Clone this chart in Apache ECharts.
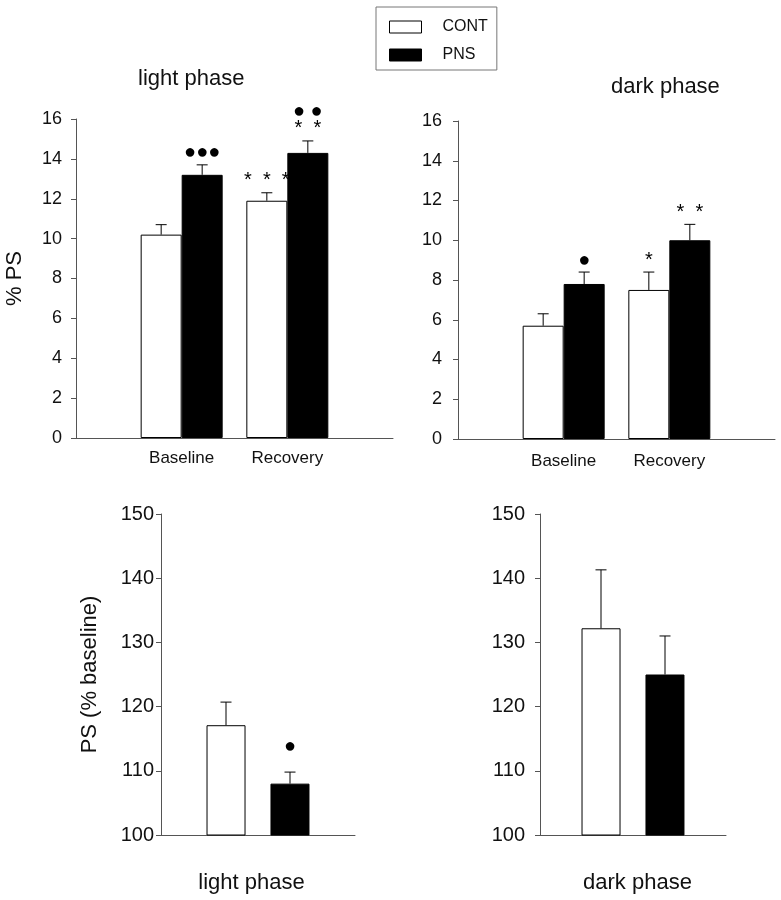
<!DOCTYPE html>
<html>
<head>
<meta charset="utf-8">
<script src="https://cdn.jsdelivr.net/npm/echarts@6/dist/echarts.min.js"></script>
<style>
  html, body { margin: 0; background: #fff; }
  #chart { width: 781px; height: 900px; }
</style>
</head>
<body>
<div id="chart"></div>
<script>
// values (mean and upper SEM)
const groups = ['Baseline', 'Recovery'];
const groupPos = [1, 2];

const lightCont = [10.2, 11.9];
const lightContSem = [0.5, 0.4];
const lightPns = [13.2, 14.3];
const lightPnsSem = [0.5, 0.6];
const lightContMarks = ['', '*  *  *'];
const lightPnsMarks = ['●●●', '● ●\n*  *'];

const darkCont = [5.7, 7.5];
const darkContSem = [0.6, 0.9];
const darkPns = [7.8, 10.0];
const darkPnsSem = [0.6, 0.8];
const darkContMarks = ['', '*'];
const darkPnsMarks = ['●', '*  *'];

const phases = ['light phase', 'dark phase'];
const relCont = [117.1, 132.2];
const relContSem = [3.6, 9.1];
const relPns = [108.0, 125.0];
const relPnsSem = [1.8, 6.0];
const relContMarks = ['', ''];
const relPnsMarks = ['●', ''];

const psTicks = { min: 0, max: 16, interval: 2 };
const relTicks = { min: 100, max: 150, interval: 10 };

const FONT = '"Liberation Sans", Arial, sans-serif';
const AXIS_COLOR = '#555';

const chart = echarts.init(document.getElementById('chart'));

const grids = [
  { left: 76, top: 119, width: 317, height: 319 },
  { left: 458, top: 121, width: 317, height: 318 },
  { left: 161, top: 514, width: 194, height: 321 },
  { left: 540, top: 514, width: 186, height: 321 }
];

function yAxis(idx, ticks, margin, name, nameGap) {
  return {
    gridIndex: idx,
    type: 'value',
    min: ticks.min, max: ticks.max, interval: ticks.interval,
    name: name || '',
    nameLocation: 'middle',
    nameGap: nameGap || 0,
    nameRotate: 90,
    nameTextStyle: { fontSize: 22, fontFamily: FONT, color: '#111' },
    axisLine: { show: true, lineStyle: { color: AXIS_COLOR, width: 1 } },
    axisTick: { show: true, inside: false, length: 5, lineStyle: { color: AXIS_COLOR } },
    axisLabel: { margin: margin, fontSize: idx < 2 ? 18 : 20, fontFamily: FONT, color: '#111' },
    splitLine: { show: false }
  };
}

function groupAxis(idx, margin) {
  return {
    gridIndex: idx,
    type: 'value',
    min: 0, max: 3, interval: 1,
    axisLine: { show: true, onZero: false, lineStyle: { color: AXIS_COLOR, width: 1 } },
    axisTick: { show: false },
    splitLine: { show: false },
    axisLabel: {
      margin: margin, fontSize: 17, fontFamily: FONT, color: '#111',
      formatter: v => groups[groupPos.indexOf(v)] || ''
    }
  };
}

function phaseAxis(idx, phase, pad) {
  return {
    gridIndex: idx,
    type: 'category',
    data: [phase],
    axisLine: { show: true, onZero: false, lineStyle: { color: AXIS_COLOR, width: 1 } },
    axisTick: { show: false },
    axisLabel: { margin: 37, fontSize: 22, fontFamily: FONT, color: '#111', padding: pad }
  };
}

function bars(name, idx, data, width, gap) {
  const black = name === 'PNS';
  return {
    name: name,
    type: 'bar',
    xAxisIndex: idx, yAxisIndex: idx,
    barWidth: width,
    barGap: gap,
    itemStyle: { color: black ? '#000' : '#fff', borderColor: '#000', borderWidth: 1 },
    data: data
  };
}

// error bar (upper half only) plus significance marks stacked above it
function errors(idx, data, sems, marks, offset, lift) {
  return {
    type: 'custom',
    xAxisIndex: idx, yAxisIndex: idx,
    z: 5,
    data: data.map((d, i) => [d[0], d[1], sems[i]]),
    renderItem: (params, api) => {
      const x = api.value(0), m = api.value(1), s = api.value(2);
      const base = api.coord([x, m]);
      const top = api.coord([x, m + s]);
      const cx = base[0] + offset;
      const children = [
        { type: 'line', shape: { x1: cx, y1: base[1], x2: cx, y2: top[1] }, style: { stroke: '#000', lineWidth: 1 } },
        { type: 'line', shape: { x1: cx - 5.5, y1: top[1], x2: cx + 5.5, y2: top[1] }, style: { stroke: '#000', lineWidth: 1 } }
      ];
      const mark = marks[params.dataIndex];
      if (mark) {
        const lines = mark.split('\n').reverse();
        lines.forEach((ln, k) => {
          children.push({
            type: 'text',
            style: {
              text: ln, x: cx, y: top[1] - 2 - (lift || 0) - k * 17,
              textAlign: 'center', textVerticalAlign: 'bottom',
              font: '20px ' + FONT, fill: '#000'
            }
          });
        });
      }
      return { type: 'group', children: children };
    }
  };
}

const pts = (vals) => vals.map((v, i) => [groupPos[i], v]);

const option = {
  backgroundColor: '#fff',
  animation: false,
  grid: grids,
  legend: {
    data: ['CONT', 'PNS'],
    orient: 'vertical',
    left: 376, top: 7,
    itemWidth: 32, itemHeight: 12, itemGap: 12,
    padding: [12, 9, 7, 13],
    borderColor: '#777', borderWidth: 1,
    icon: 'rect',
    itemStyle: { borderWidth: 1 },
    textStyle: { fontSize: 16, fontFamily: FONT, color: '#111', padding: [0, 0, 0, 16] }
  },
  graphic: [
    { type: 'text', left: 192 - 54, top: 68, style: { text: 'light phase', font: '22px ' + FONT, fill: '#111' } },
    { type: 'text', left: 666 - 55, top: 76, style: { text: 'dark phase', font: '22px ' + FONT, fill: '#111' } }
  ],
  xAxis: [
    groupAxis(0, 12),
    groupAxis(1, 14),
    phaseAxis(2, phases[0], [0, 13, 0, 0]),
    phaseAxis(3, phases[1], [0, 0, 0, 9])
  ],
  yAxis: [
    yAxis(0, psTicks, 14, '% PS', 50),
    yAxis(1, psTicks, 16),
    yAxis(2, relTicks, 7, 'PS (% baseline)', 60),
    yAxis(3, relTicks, 15)
  ],
  series: [
    bars('CONT', 0, pts(lightCont), 41, '0%'),
    bars('PNS', 0, pts(lightPns), 41, '0%'),
    errors(0, pts(lightCont), lightContSem, lightContMarks, -20.5, 0),
    errors(0, pts(lightPns), lightPnsSem, lightPnsMarks, 20.5, 0),

    bars('CONT', 1, pts(darkCont), 41, '0%'),
    bars('PNS', 1, pts(darkPns), 41, '0%'),
    errors(1, pts(darkCont), darkContSem, darkContMarks, -20.5, 0),
    errors(1, pts(darkPns), darkPnsSem, darkPnsMarks, 20.5, 0),

    bars('CONT', 2, [relCont[0]], 39, '64%'),
    bars('PNS', 2, [relPns[0]], 39, '64%'),
    errors(2, [[0, relCont[0]]], [relContSem[0]], [relContMarks[0]], -32, 14),
    errors(2, [[0, relPns[0]]], [relPnsSem[0]], [relPnsMarks[0]], 32, 14),

    bars('CONT', 3, [relCont[1]], 39, '64%'),
    bars('PNS', 3, [relPns[1]], 39, '64%'),
    errors(3, [[0, relCont[1]]], [relContSem[1]], [relContMarks[1]], -32, 0),
    errors(3, [[0, relPns[1]]], [relPnsSem[1]], [relPnsMarks[1]], 32, 0)
  ]
};

chart.setOption(option);
</script>
</body>
</html>
